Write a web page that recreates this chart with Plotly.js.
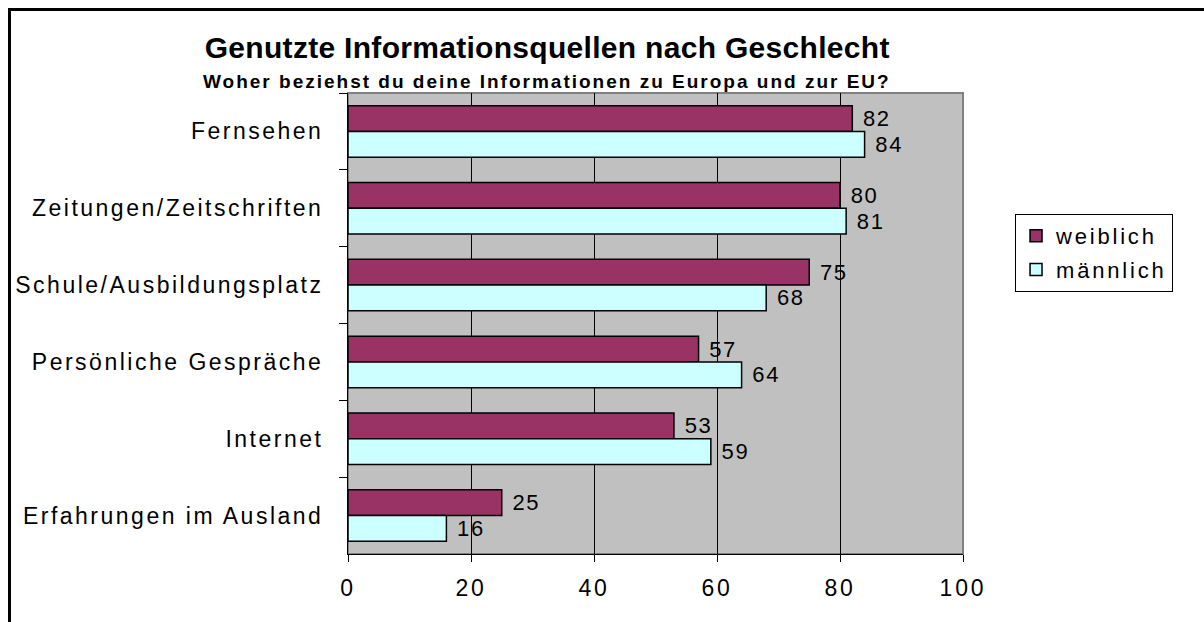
<!DOCTYPE html>
<html>
<head>
<meta charset="utf-8">
<script src="https://cdn.plot.ly/plotly-3.0.1.min.js"></script>
<style>
  html, body { margin: 0; padding: 0; background: #fff; }
  #chart { width: 1204px; height: 622px; }
  #frame { position: absolute; left: 8px; top: 8px; width: 1400px; height: 900px;
           border-left: 3px solid #000; border-top: 3px solid #000; pointer-events: none; }
  .ytick text { letter-spacing: 2.5px; }
  .xtick text { letter-spacing: 2.8px; }
  .legendtext { letter-spacing: 2.8px; }
  text.bartext { letter-spacing: 1.6px; }
  .annotation-text { letter-spacing: 2px; }
  .gtitle { letter-spacing: 0.3px; }
</style>
</head>
<body>
<div id="chart"></div>
<div id="frame"></div>
<script>
const categories = ["Fernsehen", "Zeitungen/Zeitschriften", "Schule/Ausbildungsplatz",
                    "Persönliche Gespräche", "Internet", "Erfahrungen im Ausland"];
const weiblich = [82, 80, 75, 57, 53, 25];
const maennlich = [84, 81, 68, 64, 59, 16];
const seriesNames = ["weiblich", "männlich"];
const xTicks = [0, 20, 40, 60, 80, 100];

const font = "Liberation Sans, Arial, sans-serif";

const traces = [
  {
    type: "bar", orientation: "h", name: seriesNames[0], legendgroup: "w",
    y: categories, x: weiblich,
    text: weiblich.map(v => "\u00a0" + v),
    textposition: "outside", constraintext: "none", cliponaxis: false,
    textfont: { family: font, size: 22, color: "#000" },
    marker: { color: "#993366", line: { color: "#000", width: 1.5 } },
    hoverinfo: "x+name"
  },
  {
    type: "bar", orientation: "h", name: seriesNames[1], legendgroup: "m",
    y: categories, x: maennlich,
    text: maennlich.map(v => "\u00a0" + v),
    textposition: "outside", constraintext: "none", cliponaxis: false,
    textfont: { family: font, size: 22, color: "#000" },
    marker: { color: "#CCFFFF", line: { color: "#000", width: 1.5 } },
    hoverinfo: "x+name"
  }
];

const layout = {
  width: 1204, height: 622,
  margin: { l: 348, r: 241, t: 93, b: 68, pad: 0 },
  paper_bgcolor: "rgba(0,0,0,0)",
  plot_bgcolor: "#C0C0C0",
  barmode: "group",
  bargap: 0.33, bargroupgap: 0,
  showlegend: true,
  font: { family: font, color: "#000" },
  title: {
    text: "<b>Genutzte Informationsquellen nach Geschlecht</b>",
    font: { family: font, size: 30, color: "#000" },
    x: 0.4545, xref: "container", xanchor: "center",
    y: 0.924, yref: "container", yanchor: "middle"
  },
  annotations: [{
    text: "<b>Woher beziehst du deine Informationen zu Europa und zur EU?</b>",
    xref: "paper", yref: "paper",
    x: 0.324, y: 1.024, xanchor: "center", yanchor: "middle",
    showarrow: false,
    font: { family: font, size: 19, color: "#000" }
  }],
  xaxis: {
    range: [0, 100], tickvals: xTicks, ticktext: xTicks.map(String),
    showgrid: true, gridcolor: "#000", gridwidth: 1,
    zeroline: false, showline: true, linecolor: "#000", linewidth: 1,
    ticks: "outside", ticklen: 7, tickcolor: "#000", tickwidth: 1,
    ticklabelstandoff: 6,
    tickfont: { family: font, size: 23, color: "#000" },
    fixedrange: true
  },
  yaxis: {
    type: "category", autorange: "reversed",
    tickson: "boundaries",
    showgrid: false, zeroline: false,
    showline: true, linecolor: "#000", linewidth: 1,
    ticks: "outside", ticklen: 8, tickcolor: "#000", tickwidth: 1,
    ticklabelstandoff: 19,
    tickfont: { family: font, size: 23, color: "#000" },
    fixedrange: true
  },
  legend: {
    x: 1.0846, y: 0.7375, xanchor: "left", yanchor: "top",
    bgcolor: "#fff", bordercolor: "#000", borderwidth: 1,
    font: { family: font, size: 22, color: "#000" },
    tracegroupgap: 2, itemwidth: 30,
    traceorder: "grouped"
  },
  shapes: [{
    type: "rect", xref: "paper", yref: "paper", x0: 0, x1: 1, y0: 0, y1: 1,
    line: { color: "#808080", width: 2 }, fillcolor: "rgba(0,0,0,0)", layer: "below"
  }]
};

Plotly.newPlot("chart", traces, layout, { displayModeBar: false, staticPlot: false });
</script>
</body>
</html>
